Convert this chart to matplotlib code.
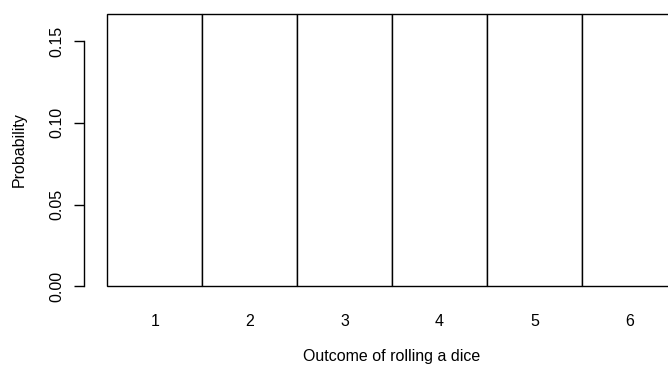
import matplotlib

matplotlib.use("Agg")
import matplotlib.pyplot as plt

# fair six-sided die: each face equally likely
outcomes = ["1", "2", "3", "4", "5", "6"]
probs = [1 / 6] * 6
yticks = [0.00, 0.05, 0.10, 0.15]
ytick_labels = ["0.00", "0.05", "0.10", "0.15"]

plt.rcParams["font.family"] = ["Liberation Sans", "DejaVu Sans"]
FS = 11.5

W, H = 668, 366
fig = plt.figure(figsize=(W / 100, H / 100), dpi=100)
# axes box in pixel terms: left edge on the y axis line, top at the figure edge
left_px, bottom_px = 84.3, 300
ax_w, ax_h = W - left_px, bottom_px
ax = fig.add_axes([left_px / W, 1 - bottom_px / H, ax_w / W, ax_h / H])

x = list(range(len(outcomes)))
ax.bar(x, probs, width=1.0, align="edge", facecolor="white",
       edgecolor="black", linewidth=1.0)

ax.set_xlim(-0.242, 5.908)
ax.set_ylim(-0.00838, 0.1751)

for s in ("top", "right", "bottom"):
    ax.spines[s].set_visible(False)
ax.spines["left"].set_bounds(0, 0.15)
ax.spines["left"].set_linewidth(1.0)

ax.set_yticks(yticks)
ax.set_yticklabels(ytick_labels, rotation=90, va="center", fontsize=FS)
ax.tick_params(axis="y", length=7, width=1.0, pad=7.5)

ax.set_xticks([i + 0.5 for i in x])
ax.set_xticklabels(outcomes, fontsize=FS)
ax.tick_params(axis="x", length=0, pad=10)

# axis titles placed by pixel centre, as in the reference
xl = ax.set_xlabel("Outcome of rolling a dice", fontsize=FS)
xl.set_va("center")
ax.xaxis.set_label_coords((392 - left_px) / ax_w, -(357 - bottom_px) / ax_h)
yl = ax.set_ylabel("Probability", fontsize=FS)
yl.set_va("center")
ax.yaxis.set_label_coords(-(left_px - 19) / ax_w, (bottom_px - 150) / ax_h)

fig.savefig("out.png", dpi=100)
plt.close(fig)
